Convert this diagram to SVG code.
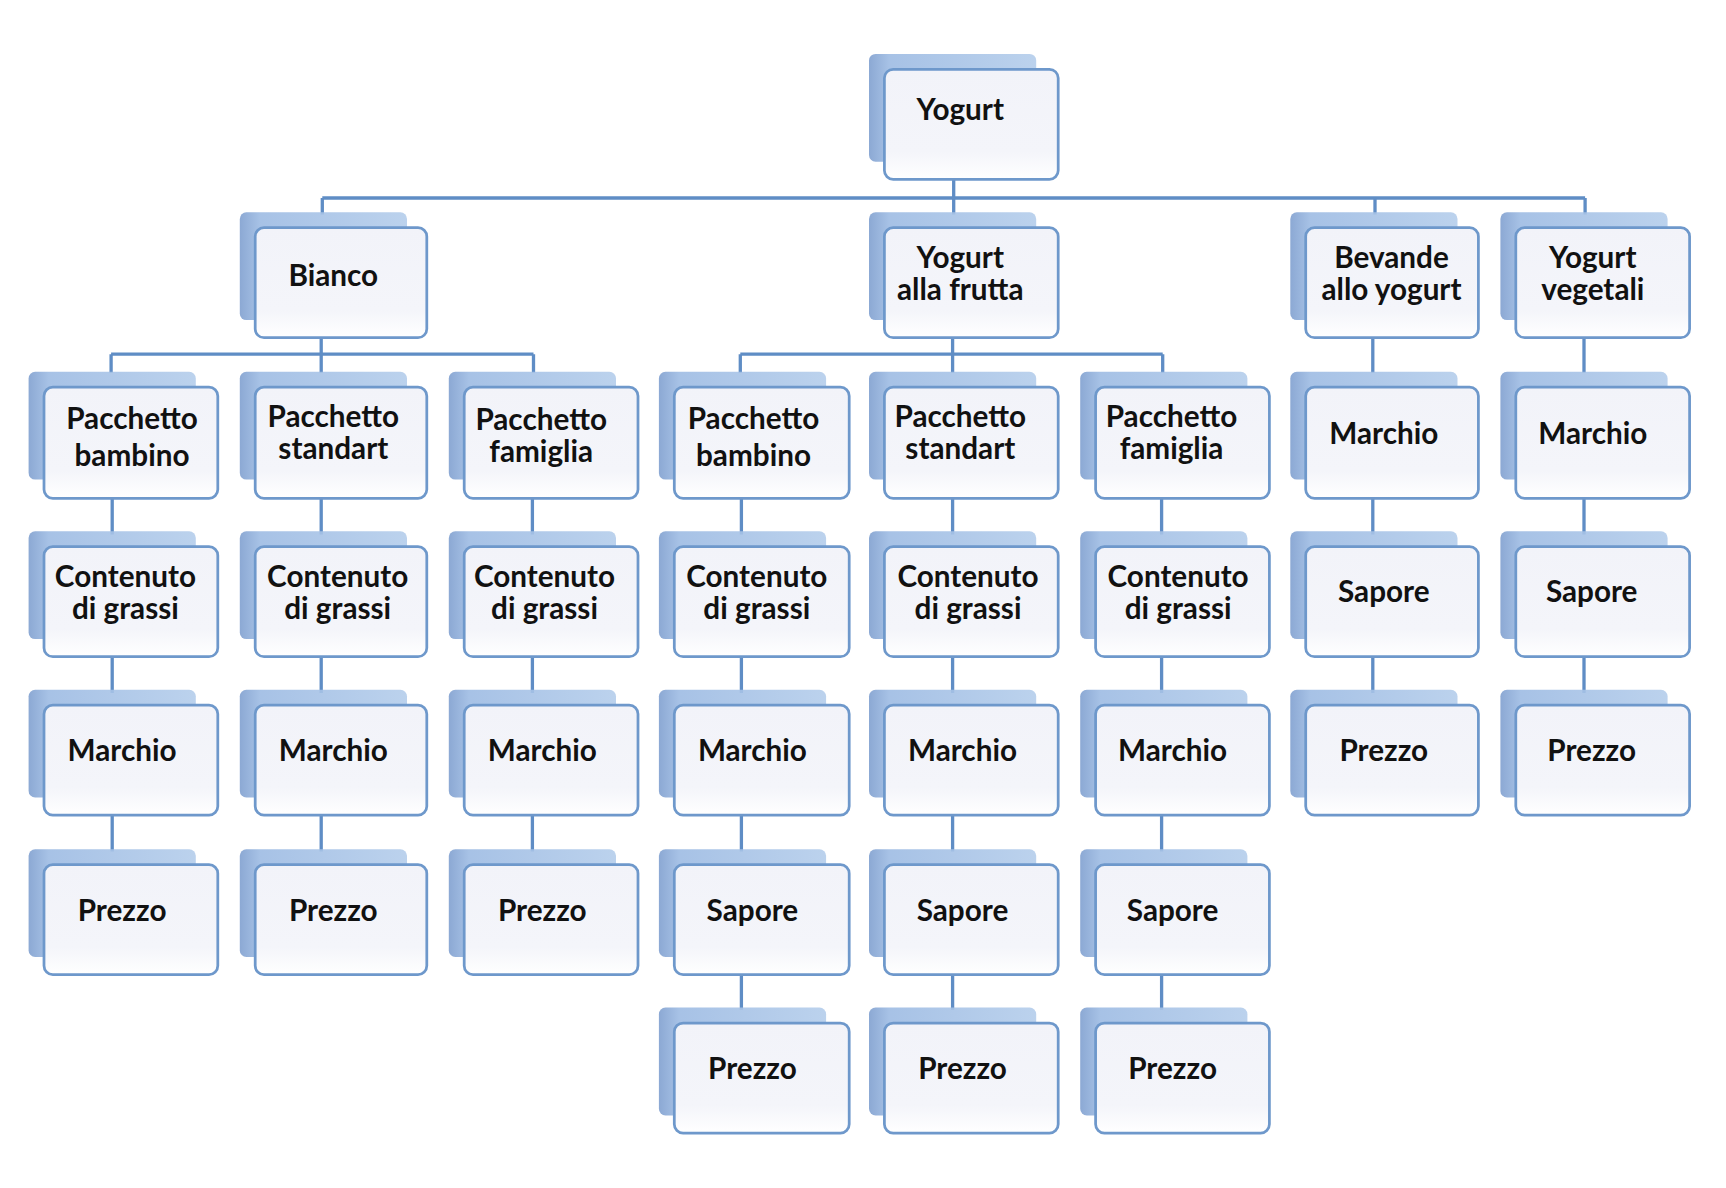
<svg xmlns="http://www.w3.org/2000/svg" width="1726" height="1188" viewBox="0 0 1726 1188">
<defs>
<linearGradient id="fg" x1="0" y1="0" x2="0" y2="1"><stop offset="0" stop-color="#f2f3f9"/><stop offset="0.75" stop-color="#f4f5fa"/><stop offset="1" stop-color="#ffffff"/></linearGradient>
<linearGradient id="bg" x1="0" y1="0" x2="1" y2="0"><stop offset="0" stop-color="#7f9fcf"/><stop offset="0.12" stop-color="#9dbbe3"/><stop offset="1" stop-color="#b4cdeb"/></linearGradient>
<style>
.b{fill:url(#bg);opacity:0.9}
.f{fill:url(#fg);stroke:#6e98cb;stroke-width:2.5}
.t{font-family:Lato,"Open Sans",sans-serif;font-weight:bold;font-size:27px;fill:#111;text-anchor:middle}
.c{stroke:#5f8dc5;stroke-width:3;fill:none}
</style>
</defs>
<rect width="1726" height="1188" fill="#fff"/>
<g transform="scale(1.1)">
<g id="connectors" class="c">
<path d="M867 163V180M293 180H1441M293 180V195M867 180V195M1250 180V195M1441 180V195"/>
<path d="M292 307V322M101 322H485M101 322V339M292 322V339M485 322V339"/>
<path d="M866 307V322M673 322H1057M673 322V339M866 322V339M1057 322V339"/>
<path d="M102 453V486M102 597V630M102 741V774"/>
<path d="M292 453V486M292 597V630M292 741V774"/>
<path d="M484 453V486M484 597V630M484 741V774"/>
<path d="M674 453V486M674 597V630M674 741V774M674 886V918"/>
<path d="M866 453V486M866 597V630M866 741V774M866 886V918"/>
<path d="M1056 453V486M1056 597V630M1056 741V774M1056 886V918"/>
<path d="M1248 307V339M1248 453V486M1248 597V630"/>
<path d="M1440 307V339M1440 453V486M1440 597V630"/>
</g>
<g id="nodes">
<g id="n-root"><rect class="b" x="790" y="49" width="152" height="98" rx="6"/><rect class="f" x="804" y="63" width="158" height="100" rx="8"/><text class="t" x="873" y="109">Yogurt</text></g>
<g id="n-bianco"><rect class="b" x="218" y="193" width="152" height="98" rx="6"/><rect class="f" x="232" y="207" width="156" height="100" rx="8"/><text class="t" x="303" y="260">Bianco</text></g>
<g id="n-frutta"><rect class="b" x="790" y="193" width="152" height="98" rx="6"/><rect class="f" x="804" y="207" width="158" height="100" rx="8"/><text class="t" x="873" y="244">Yogurt</text><text class="t" x="873" y="273">alla frutta</text></g>
<g id="n-bevande"><rect class="b" x="1173" y="193" width="152" height="98" rx="6"/><rect class="f" x="1187" y="207" width="157" height="100" rx="8"/><text class="t" x="1265" y="244">Bevande</text><text class="t" x="1265" y="273">allo yogurt</text></g>
<g id="n-vegetali"><rect class="b" x="1364" y="193" width="152" height="98" rx="6"/><rect class="f" x="1378" y="207" width="158" height="100" rx="8"/><text class="t" x="1448" y="244">Yogurt</text><text class="t" x="1448" y="273">vegetali</text></g>

<g id="c1r2"><rect class="b" x="26" y="338" width="152" height="98" rx="6"/><rect class="f" x="40" y="352" width="158" height="101" rx="8"/><text class="t" x="120" y="390">Pacchetto</text><text class="t" x="120" y="424">bambino</text></g>
<g id="c2r2"><rect class="b" x="218" y="338" width="152" height="98" rx="6"/><rect class="f" x="232" y="352" width="156" height="101" rx="8"/><text class="t" x="303" y="388">Pacchetto</text><text class="t" x="303" y="417">standart</text></g>
<g id="c3r2"><rect class="b" x="408" y="338" width="152" height="98" rx="6"/><rect class="f" x="422" y="352" width="158" height="101" rx="8"/><text class="t" x="492" y="391">Pacchetto</text><text class="t" x="492" y="420">famiglia</text></g>
<g id="c4r2"><rect class="b" x="599" y="338" width="152" height="98" rx="6"/><rect class="f" x="613" y="352" width="159" height="101" rx="8"/><text class="t" x="685" y="390">Pacchetto</text><text class="t" x="685" y="424">bambino</text></g>
<g id="c5r2"><rect class="b" x="790" y="338" width="152" height="98" rx="6"/><rect class="f" x="804" y="352" width="158" height="101" rx="8"/><text class="t" x="873" y="388">Pacchetto</text><text class="t" x="873" y="417">standart</text></g>
<g id="c6r2"><rect class="b" x="982" y="338" width="152" height="98" rx="6"/><rect class="f" x="996" y="352" width="158" height="101" rx="8"/><text class="t" x="1065" y="388">Pacchetto</text><text class="t" x="1065" y="417">famiglia</text></g>
<g id="c7r2"><rect class="b" x="1173" y="338" width="152" height="98" rx="6"/><rect class="f" x="1187" y="352" width="157" height="101" rx="8"/><text class="t" x="1258" y="404">Marchio</text></g>
<g id="c8r2"><rect class="b" x="1364" y="338" width="152" height="98" rx="6"/><rect class="f" x="1378" y="352" width="158" height="101" rx="8"/><text class="t" x="1448" y="404">Marchio</text></g>

<g id="c1r3"><rect class="b" x="26" y="483" width="152" height="98" rx="6"/><rect class="f" x="40" y="497" width="158" height="100" rx="8"/><text class="t" x="114" y="534">Contenuto</text><text class="t" x="114" y="563">di grassi</text></g>
<g id="c2r3"><rect class="b" x="218" y="483" width="152" height="98" rx="6"/><rect class="f" x="232" y="497" width="156" height="100" rx="8"/><text class="t" x="307" y="534">Contenuto</text><text class="t" x="307" y="563">di grassi</text></g>
<g id="c3r3"><rect class="b" x="408" y="483" width="152" height="98" rx="6"/><rect class="f" x="422" y="497" width="158" height="100" rx="8"/><text class="t" x="495" y="534">Contenuto</text><text class="t" x="495" y="563">di grassi</text></g>
<g id="c4r3"><rect class="b" x="599" y="483" width="152" height="98" rx="6"/><rect class="f" x="613" y="497" width="159" height="100" rx="8"/><text class="t" x="688" y="534">Contenuto</text><text class="t" x="688" y="563">di grassi</text></g>
<g id="c5r3"><rect class="b" x="790" y="483" width="152" height="98" rx="6"/><rect class="f" x="804" y="497" width="158" height="100" rx="8"/><text class="t" x="880" y="534">Contenuto</text><text class="t" x="880" y="563">di grassi</text></g>
<g id="c6r3"><rect class="b" x="982" y="483" width="152" height="98" rx="6"/><rect class="f" x="996" y="497" width="158" height="100" rx="8"/><text class="t" x="1071" y="534">Contenuto</text><text class="t" x="1071" y="563">di grassi</text></g>
<g id="c7r3"><rect class="b" x="1173" y="483" width="152" height="98" rx="6"/><rect class="f" x="1187" y="497" width="157" height="100" rx="8"/><text class="t" x="1258" y="547">Sapore</text></g>
<g id="c8r3"><rect class="b" x="1364" y="483" width="152" height="98" rx="6"/><rect class="f" x="1378" y="497" width="158" height="100" rx="8"/><text class="t" x="1447" y="547">Sapore</text></g>

<g id="c1r4"><rect class="b" x="26" y="627" width="152" height="98" rx="6"/><rect class="f" x="40" y="641" width="158" height="100" rx="8"/><text class="t" x="111" y="692">Marchio</text></g>
<g id="c2r4"><rect class="b" x="218" y="627" width="152" height="98" rx="6"/><rect class="f" x="232" y="641" width="156" height="100" rx="8"/><text class="t" x="303" y="692">Marchio</text></g>
<g id="c3r4"><rect class="b" x="408" y="627" width="152" height="98" rx="6"/><rect class="f" x="422" y="641" width="158" height="100" rx="8"/><text class="t" x="493" y="692">Marchio</text></g>
<g id="c4r4"><rect class="b" x="599" y="627" width="152" height="98" rx="6"/><rect class="f" x="613" y="641" width="159" height="100" rx="8"/><text class="t" x="684" y="692">Marchio</text></g>
<g id="c5r4"><rect class="b" x="790" y="627" width="152" height="98" rx="6"/><rect class="f" x="804" y="641" width="158" height="100" rx="8"/><text class="t" x="875" y="692">Marchio</text></g>
<g id="c6r4"><rect class="b" x="982" y="627" width="152" height="98" rx="6"/><rect class="f" x="996" y="641" width="158" height="100" rx="8"/><text class="t" x="1066" y="692">Marchio</text></g>
<g id="c7r4"><rect class="b" x="1173" y="627" width="152" height="98" rx="6"/><rect class="f" x="1187" y="641" width="157" height="100" rx="8"/><text class="t" x="1258" y="692">Prezzo</text></g>
<g id="c8r4"><rect class="b" x="1364" y="627" width="152" height="98" rx="6"/><rect class="f" x="1378" y="641" width="158" height="100" rx="8"/><text class="t" x="1447" y="692">Prezzo</text></g>

<g id="c1r5"><rect class="b" x="26" y="772" width="152" height="98" rx="6"/><rect class="f" x="40" y="786" width="158" height="100" rx="8"/><text class="t" x="111" y="837">Prezzo</text></g>
<g id="c2r5"><rect class="b" x="218" y="772" width="152" height="98" rx="6"/><rect class="f" x="232" y="786" width="156" height="100" rx="8"/><text class="t" x="303" y="837">Prezzo</text></g>
<g id="c3r5"><rect class="b" x="408" y="772" width="152" height="98" rx="6"/><rect class="f" x="422" y="786" width="158" height="100" rx="8"/><text class="t" x="493" y="837">Prezzo</text></g>
<g id="c4r5"><rect class="b" x="599" y="772" width="152" height="98" rx="6"/><rect class="f" x="613" y="786" width="159" height="100" rx="8"/><text class="t" x="684" y="837">Sapore</text></g>
<g id="c5r5"><rect class="b" x="790" y="772" width="152" height="98" rx="6"/><rect class="f" x="804" y="786" width="158" height="100" rx="8"/><text class="t" x="875" y="837">Sapore</text></g>
<g id="c6r5"><rect class="b" x="982" y="772" width="152" height="98" rx="6"/><rect class="f" x="996" y="786" width="158" height="100" rx="8"/><text class="t" x="1066" y="837">Sapore</text></g>

<g id="c4r6"><rect class="b" x="599" y="916" width="152" height="98" rx="6"/><rect class="f" x="613" y="930" width="159" height="100" rx="8"/><text class="t" x="684" y="981">Prezzo</text></g>
<g id="c5r6"><rect class="b" x="790" y="916" width="152" height="98" rx="6"/><rect class="f" x="804" y="930" width="158" height="100" rx="8"/><text class="t" x="875" y="981">Prezzo</text></g>
<g id="c6r6"><rect class="b" x="982" y="916" width="152" height="98" rx="6"/><rect class="f" x="996" y="930" width="158" height="100" rx="8"/><text class="t" x="1066" y="981">Prezzo</text></g>
</g>
</g>
</svg>
